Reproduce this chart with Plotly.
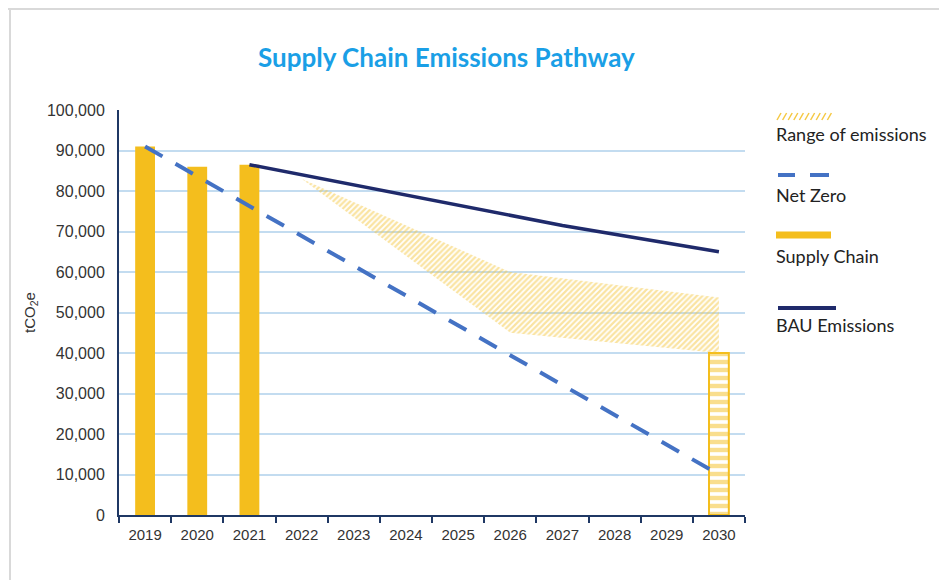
import plotly.graph_objects as go

years = ["2019", "2020", "2021", "2022", "2023", "2024", "2025", "2026", "2027", "2028", "2029", "2030"]

supply_years = ["2019", "2020", "2021"]
supply_values = [91000, 86000, 86500]

target_year = ["2030"]
target_value = [40000]

netzero_years = ["2019", "2030"]
netzero_values = [91000, 10000]

bau_years = ["2021", "2022", "2023", "2024", "2025", "2026", "2027", "2028", "2029", "2030"]
bau_values = [86500, 84000, 81500, 79000, 76500, 74000, 71500, 69300, 67200, 65000]

range_years = ["2022", "2026", "2030"]
range_upper = [83000, 60000, 53700]
range_lower = [83000, 45000, 40000]

YELLOW = "#F4BE1D"
NAVY = "#1F2A6B"
BLUE = "#4472C4"
AXIS = "#1F3864"
GRID = "#C3DCF0"
HATCH = "#F5C843"

# page body has an 8px default margin -> compensate
OFF = 8
W, H = 947 - OFF, 580 - OFF

fig = go.Figure()

fig.add_trace(go.Scatter(
    x=range_years + range_years[::-1],
    y=range_upper + range_lower[::-1],
    fill="toself", mode="lines", line=dict(width=0),
    fillcolor="rgba(255,255,255,0)",
    fillpattern=dict(shape="/", fgcolor=HATCH, bgcolor="rgba(255,255,255,0)", size=4, solidity=0.55),
    showlegend=False, hoverinfo="skip"))

fig.add_trace(go.Bar(x=supply_years, y=supply_values, marker=dict(color=YELLOW, line=dict(width=0)),
                     width=0.38, showlegend=False))
fig.add_trace(go.Bar(x=target_year, y=target_value,
                     marker=dict(color="white", line=dict(color=YELLOW, width=2),
                                 pattern=dict(shape="-", fgcolor=YELLOW, bgcolor="white", size=8, solidity=0.55)),
                     width=0.38, showlegend=False))

fig.add_trace(go.Scatter(x=netzero_years, y=netzero_values, mode="lines",
                         line=dict(color=BLUE, width=4, dash="20px,15px"), showlegend=False))
fig.add_trace(go.Scatter(x=bau_years, y=bau_values, mode="lines",
                         line=dict(color=NAVY, width=3.5), showlegend=False))

# target pixel positions (in window coords)
L, R, T, B = 119, 745, 110, 515
def px(xp):
    return (xp - L) / (R - L)
def py(yp):
    return (B - yp) / (B - T)

shapes = []
annotations = []
shapes.append(dict(type="line", xref="paper", yref="paper", x0=px(OFF), x1=px(960), y0=py(OFF + 1), y1=py(OFF + 1),
                   line=dict(color="#D9D9D9", width=2)))
shapes.append(dict(type="line", xref="paper", yref="paper", x0=px(OFF + 2), x1=px(OFF + 2), y0=py(OFF), y1=py(600),
                   line=dict(color="#D9D9D9", width=2)))

for i in range(10):
    shapes.append(dict(type="line", xref="paper", yref="paper",
                       x0=px(777 + i * 5.6), x1=px(781 + i * 5.6), y0=py(120), y1=py(113),
                       line=dict(color=HATCH, width=1.5)))
shapes.append(dict(type="line", xref="paper", yref="paper", x0=px(778), x1=px(795), y0=py(175), y1=py(175),
                   line=dict(color=BLUE, width=4)))
shapes.append(dict(type="line", xref="paper", yref="paper", x0=px(810), x1=px(829), y0=py(175), y1=py(175),
                   line=dict(color=BLUE, width=4)))
shapes.append(dict(type="line", xref="paper", yref="paper", x0=px(776), x1=px(831), y0=py(235), y1=py(235),
                   line=dict(color=YELLOW, width=7)))
shapes.append(dict(type="line", xref="paper", yref="paper", x0=px(778), x1=px(836), y0=py(308), y1=py(308),
                   line=dict(color=NAVY, width=4)))

legend_labels = ["Range of emissions", "Net Zero", "Supply Chain", "BAU Emissions"]
legend_y = [134, 195, 256, 325]
for lab, yy in zip(legend_labels, legend_y):
    annotations.append(dict(text=lab, xref="paper", yref="paper", x=px(774), y=py(yy),
                            xanchor="left", yanchor="middle", showarrow=False,
                            font=dict(family="Lato", size=18, color="#222222")))

annotations.append(dict(text="<b>Supply Chain Emissions Pathway</b>", xref="paper", yref="paper",
                        x=px(446), y=py(57), xanchor="center", yanchor="middle", showarrow=False,
                        font=dict(family="Lato", size=26, color="#1A9FE6")))

fig.update_layout(
    width=W, height=H,
    margin=dict(l=L - OFF, r=947 - R, t=T - OFF, b=580 - B),
    paper_bgcolor="white", plot_bgcolor="white",
    barmode="overlay",
    shapes=shapes, annotations=annotations,
    showlegend=False,
    xaxis=dict(type="category", categoryorder="array", categoryarray=years, range=[-0.5, 11.5],
               showline=True, linecolor=AXIS, linewidth=2, ticks="outside", tickson="boundaries",
               ticklen=6, tickcolor=AXIS, tickwidth=1.5, showgrid=False, ticklabelstandoff=5,
               tickfont=dict(family="Liberation Sans", size=15, color="#333333")),
    yaxis=dict(range=[0, 100000], dtick=10000, tickformat=",", showline=True, linecolor=AXIS, linewidth=2,
               showgrid=True, gridcolor=GRID, gridwidth=1.5, zeroline=False, ticks="",
               ticklabelstandoff=9,
               tickfont=dict(family="Liberation Sans", size=16, color="#333333"),
               title=dict(text="tCO<sub>2</sub>e", standoff=8,
                          font=dict(family="Liberation Sans", size=15, color="#333333"))),
)

fig.write_html("out.html")
